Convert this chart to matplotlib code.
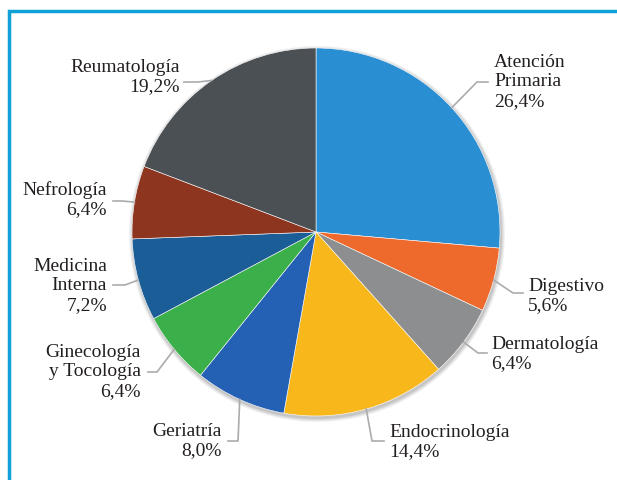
import numpy as np
import matplotlib
matplotlib.use("Agg")
import matplotlib.pyplot as plt
from matplotlib.patches import Circle

# datos
servicios = ["Atención\nPrimaria", "Digestivo", "Dermatología", "Endocrinología", "Geriatría",
             "Ginecología\ny Tocología", "Medicina\nInterna", "Nefrología", "Reumatología"]
porcentajes = [26.4, 5.6, 6.4, 14.4, 8.0, 6.4, 7.2, 6.4, 19.2]
colores = ["#2A8ED3", "#EE6A2C", "#8C8E90", "#F8B81C", "#2461B5",
           "#3AAF4A", "#1B5D96", "#8E3520", "#4B5054"]

# posicion del texto (pixeles) y codo de la linea guia
texto_xy = [(494, 82), (528, 296), (491, 354), (389, 442), (222, 441),
            (141, 372), (107, 286), (107, 200), (180, 77)]
codo_xy = [(477, 82), (513, 293), (478, 353), (372, 441), (238, 441),
           (157, 372), (125, 285), (122, 201), (198, 82)]
fin_x = [488, 523, 487, 384, 228, 148, 113, 113, 184]
alinea = ["left", "left", "left", "left", "right", "right", "right", "right", "right"]

H = 480
cx, cy, r = 316, H - 232, 184

fig = plt.figure(figsize=(6.17, 4.8), dpi=100)
ax = fig.add_axes([0, 0, 1, 1])

# sombra suave
for i, a in enumerate([0.05, 0.05, 0.06, 0.08]):
    ax.add_patch(Circle((cx + 1, cy - 2), r + 4 - i, color="black", alpha=a, lw=0, zorder=0))

wedges, _ = ax.pie(porcentajes, colors=colores, startangle=90, counterclock=False,
                   center=(cx, cy), radius=r, frame=True,
                   wedgeprops=dict(edgecolor="white", linewidth=0.4))
ax.set_xlim(0, 617)
ax.set_ylim(0, H)
ax.set_aspect("equal")
ax.axis("off")

for w, nombre, p, txy, cxy, fx, ha in zip(wedges, servicios, porcentajes, texto_xy, codo_xy, fin_x, alinea):
    ang = np.deg2rad((w.theta1 + w.theta2) / 2)
    x0 = cx + r * np.cos(ang)
    y0 = cy + r * np.sin(ang)
    ax.plot([x0, cxy[0], fx], [y0, H - cxy[1], H - cxy[1]], color="#A9ABAD", lw=1.2, zorder=3)
    etiqueta = nombre + "\n" + ("%.1f%%" % p).replace(".", ",")
    ax.text(txy[0], H - txy[1], etiqueta, ha=ha, va="center", multialignment=ha,
            fontsize=14, family="Liberation Serif", color="#231F20", linespacing=1.17)

# marco azul (arriba e izquierda)
ax.plot([9, 9, 617], [0, H - 11, H - 11], color="#0FA0D8", lw=2.5, solid_joinstyle="miter", zorder=5)

fig.savefig("out.png", dpi=100)
